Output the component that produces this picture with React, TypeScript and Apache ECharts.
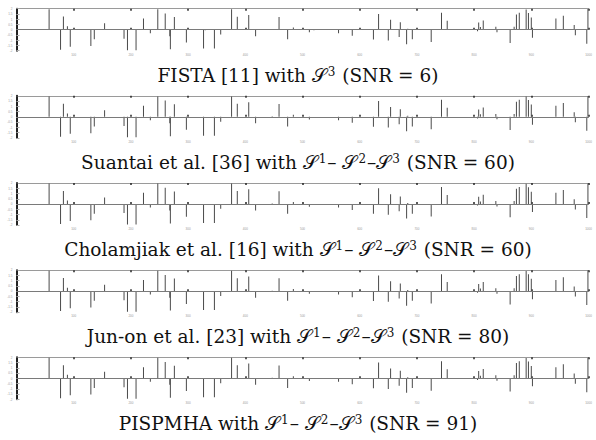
import React, { useEffect, useRef } from "react";
import * as echarts from "echarts";

// Sparse signal: spike positions (sample index) and amplitudes
const spikeIdx = [
  57, 77, 82, 89, 94, 130, 136, 154, 188, 194, 209, 222, 234, 247, 260, 268, 269, 276, 297, 327,
  346, 357, 376, 386, 406, 418, 447, 459, 474, 484, 512, 563, 587, 624, 633, 650, 654,
  669, 671, 682, 684, 692, 725, 743, 753, 806, 808, 811, 816, 838, 840, 863, 870, 874, 879,
  891, 895, 900, 902, 943, 956, 975, 977, 997, 999,
];
const spikeVal = [
  1.95, -1.9, 1.25, 0.33, -1.62, -1.55, -0.92, 0.62, -0.86, -1.95, -1.95, 1.06, -0.33, 1.95, 1.55, -0.62, -1.85, 1.2, -1.22, -1.8,
  -1.8, -0.46, 1.95, 1.24, 1.4, -0.62, 0.05, 1.22, -0.92, 0.2, -0.25, -0.33, -0.57, -0.94, 1.5, -1.02, 0.94,
  -0.7, 0.72, -1.38, 0.1, -0.92, -1.18, 1.62, 0.86, -0.15, 0.69, 0.25, 0.88, 0.28, -0.24, -1.26, 0.28, 1.45, 1.62,
  1.93, 1.6, 1.17, -0.76, 1.06, 1.33, 0.45, -0.52, -1.33, 1.96,
];

// Small residual noise in the FISTA reconstruction
const fistaNoiseIdx = [111, 140, 160, 165, 172, 285, 330, 420, 432, 440, 450, 470, 520, 590, 600, 605, 700, 790, 830, 855, 920];
const fistaNoiseVal = [0.05, -0.04, 0.06, 0.05, 0.05, 0.06, -0.05, 0.06, 0.05, 0.06, 0.05, 0.06, -0.05, 0.06, 0.05, 0.06, -0.04, 0.05, 0.06, 0.05, -0.04];

// Captions ({sup|n} = superscript)
const captions = [
  "FISTA [11] with 𝒮{sup|3} (SNR = 6)",
  "Suantai et al. [36] with 𝒮{sup|1}– 𝒮{sup|2}–𝒮{sup|3} (SNR = 60)",
  "Cholamjiak et al. [16] with 𝒮{sup|1}– 𝒮{sup|2}–𝒮{sup|3} (SNR = 60)",
  "Jun-on et al. [23] with 𝒮{sup|1}– 𝒮{sup|2}–𝒮{sup|3} (SNR = 80)",
  "PISPMHA with 𝒮{sup|1}– 𝒮{sup|2}–𝒮{sup|3} (SNR = 91)",
];

const X_MIN = 0;
const X_MAX = 1000;
const X_STEP = 100;
const Y_MIN = -2;
const Y_MAX = 2;
const Y_STEP = 0.5;

export default function App() {
  const ref = useRef<HTMLDivElement>(null);

  useEffect(() => {
    const chart = echarts.init(ref.current!, null, { renderer: "svg" });
    const top0 = 8.7;
    const step = 87.15;
    const gridH = 42;

    const grids: any[] = [];
    const xAxes: any[] = [];
    const yAxes: any[] = [];
    const series: any[] = [];
    const graphics: any[] = [];

    captions.forEach((cap, i) => {
      const top = top0 + step * i;
      grids.push({ left: 16.5, right: 7.5, top, height: gridH });
      xAxes.push({
        gridIndex: i,
        type: "value",
        min: X_MIN,
        max: X_MAX,
        interval: X_STEP,
        position: "bottom",
        axisLine: { show: true, lineStyle: { color: "#9a9a9a", width: 1 } },
        axisTick: { show: true, inside: true, length: 2, lineStyle: { color: "#222", width: 1.5 } },
        axisLabel: {
          show: true,
          fontSize: 3,
          color: "#999",
          margin: 2,
          formatter: (v: number) => (v === 0 ? "" : String(v)),
        },
        splitLine: { show: false },
      });
      xAxes.push({
        gridIndex: i,
        type: "value",
        min: X_MIN,
        max: X_MAX,
        interval: X_STEP,
        position: "top",
        axisLine: { show: true, lineStyle: { color: "#9a9a9a", width: 1 } },
        axisTick: { show: true, inside: true, length: 2, lineStyle: { color: "#222", width: 1.5 } },
        axisLabel: { show: false },
        splitLine: { show: false },
      });
      yAxes.push({
        gridIndex: i,
        type: "value",
        min: Y_MIN,
        max: Y_MAX,
        interval: Y_STEP,
        axisLine: { show: true, onZero: false, lineStyle: { color: "#222", width: 2 } },
        axisTick: { show: true, inside: true, length: 3, lineStyle: { color: "#aaa", width: 1 } },
        axisLabel: { show: true, fontSize: 3, color: "#999", margin: 4 },
        splitLine: { show: false },
      });

      const data: [number, number][] = spikeIdx.map((x, k) => [x, spikeVal[k]]);
      if (i === 0) {
        fistaNoiseIdx.forEach((x, k) => data.push([x, fistaNoiseVal[k]]));
      }
      series.push({
        type: "bar",
        xAxisIndex: 2 * i,
        yAxisIndex: i,
        data,
        barWidth: 1,
        itemStyle: { color: "#4a4a4a" },
        markLine: {
          silent: true,
          symbol: "none",
          label: { show: false },
          lineStyle: { color: "#7a7a7a", width: 1, type: "solid" },
          data: [{ yAxis: 0 }],
        },
      });

      graphics.push({
        type: "text",
        x: 298,
        y: top + 66.5,
        style: {
          text: cap,
          fontSize: 18.5,
          fontFamily: "'DejaVu Serif', serif",
          fill: "#111",
          textAlign: "center",
          textVerticalAlign: "middle",
          rich: {
            sup: {
              fontSize: 12,
              fontFamily: "'DejaVu Serif', serif",
              fill: "#111",
              verticalAlign: "top",
              padding: [0, 1, 0, 1],
            },
          },
        },
      });
    });

    chart.setOption({
      animation: false,
      backgroundColor: "#fff",
      grid: grids,
      xAxis: xAxes,
      yAxis: yAxes,
      series,
      graphic: graphics,
    });
    return () => chart.dispose();
  }, []);

  return (
    <div
      ref={ref}
      style={{ position: "fixed", left: 0, top: 0, width: 596, height: 440, background: "#fff" }}
    />
  );
}
